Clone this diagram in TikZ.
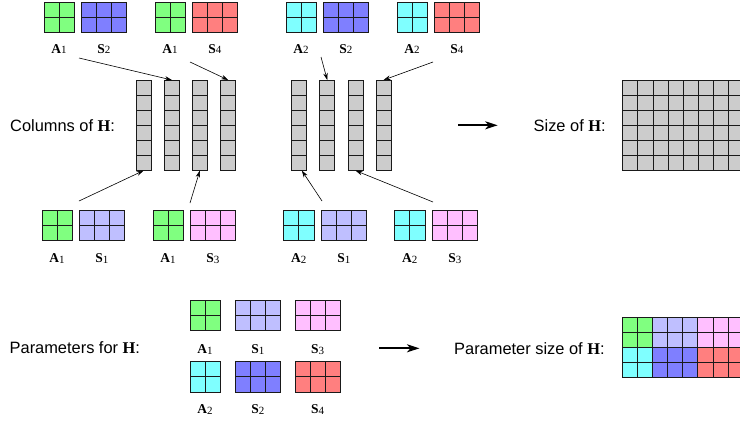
\documentclass[tikz,border=0pt]{standalone}
\usepackage{fontspec}
\setmainfont{Liberation Sans}
\newfontfamily\tmr{Liberation Serif}
\usetikzlibrary{arrows.meta,calc}
\definecolor{cgreen}{HTML}{80FF80}
\definecolor{cblue}{HTML}{7F7FFF}
\definecolor{cred}{HTML}{FF7F7F}
\definecolor{ccyan}{HTML}{7FFFFF}
\definecolor{clav}{HTML}{BFBFFF}
\definecolor{cpink}{HTML}{FFBFFF}
\definecolor{cgray}{HTML}{CCCCCC}
\definecolor{cline}{HTML}{1A1A1A}
\newcommand\bH{{\tmr\bfseries H}}
\newcommand\lbl[2]{{\tmr\bfseries #1}\raisebox{-0.9pt}{\fontsize{11}{11}\selectfont\tmr #2}}
\newcommand\cs{15.1}
\newcommand\cellblock[6]{%
  \node[blk,fill=#6,minimum width=#4*\cs pt,minimum height=#5*\cs pt] (#1) at (#2,#3) {};
  \ifnum#4>1
    \foreach \k in {2,...,#4}{\draw[blkline] ($(#1.north west)+({(\k-1)*\cs pt},0pt)$) -- ($(#1.south west)+({(\k-1)*\cs pt},0pt)$);}
  \fi
  \ifnum#5>1
    \foreach \k in {2,...,#5}{\draw[blkline] ($(#1.north west)+(0pt,{-(\k-1)*\cs pt})$) -- ($(#1.north east)+(0pt,{-(\k-1)*\cs pt})$);}
  \fi
}
\begin{document}
\begin{tikzpicture}[x=1pt,y=-1pt,
  blk/.style={draw=cline,line width=0.8pt,inner sep=0pt,outer sep=0pt,anchor=north west},
  blkline/.style={draw=cline,line width=0.8pt},
  lab/.style={inner sep=0pt,font=\fontsize{13.5}{14}\selectfont},
  txt/.style={inner sep=0pt,anchor=west,font=\fontsize{16.4}{18}\selectfont},
  thinarrow/.style={draw,line width=0.6pt,-{Stealth[length=7pt,width=4.5pt]}},
  bigarrow/.style={draw,line width=1.9pt,-{Stealth[length=12.5pt,width=8pt,inset=3.5pt]}}]
\useasboundingbox (0,0) rectangle (740,421);
% top row
\cellblock{t1a}{44}{2}{2}{2}{cgreen}
\cellblock{t1s}{81.3}{2}{3}{2}{cblue}
\cellblock{t2a}{155}{2}{2}{2}{cgreen}
\cellblock{t2s}{192.3}{2}{3}{2}{cred}
\cellblock{t3a}{286}{2}{2}{2}{ccyan}
\cellblock{t3s}{323.3}{2}{3}{2}{cblue}
\cellblock{t4a}{397}{2}{2}{2}{ccyan}
\cellblock{t4s}{434.3}{2}{3}{2}{cred}
\node[lab] (lt1a) at (t1a |- 0,49) {\lbl{A}{1}};
\node[lab] (lt1s) at (t1s |- 0,49) {\lbl{S}{2}};
\node[lab] (lt2a) at (t2a |- 0,49) {\lbl{A}{1}};
\node[lab] (lt2s) at (t2s |- 0,49) {\lbl{S}{4}};
\node[lab] (lt3a) at (t3a |- 0,49) {\lbl{A}{2}};
\node[lab] (lt3s) at (t3s |- 0,49) {\lbl{S}{2}};
\node[lab] (lt4a) at (t4a |- 0,49) {\lbl{A}{2}};
\node[lab] (lt4s) at (t4s |- 0,49) {\lbl{S}{4}};
% bottom row
\cellblock{b1a}{42}{210.3}{2}{2}{cgreen}
\cellblock{b1s}{79.3}{210.3}{3}{2}{clav}
\cellblock{b2a}{153}{210.3}{2}{2}{cgreen}
\cellblock{b2s}{190.3}{210.3}{3}{2}{cpink}
\cellblock{b3a}{283.7}{210.3}{2}{2}{ccyan}
\cellblock{b3s}{321.3}{210.3}{3}{2}{clav}
\cellblock{b4a}{394.7}{210.3}{2}{2}{ccyan}
\cellblock{b4s}{432.3}{210.3}{3}{2}{cpink}
\node[lab] (lb1a) at (b1a |- 0,258.3) {\lbl{A}{1}};
\node[lab] (lb1s) at (b1s |- 0,258.3) {\lbl{S}{1}};
\node[lab] (lb2a) at (b2a |- 0,258.3) {\lbl{A}{1}};
\node[lab] (lb2s) at (b2s |- 0,258.3) {\lbl{S}{3}};
\node[lab] (lb3a) at (b3a |- 0,258.3) {\lbl{A}{2}};
\node[lab] (lb3s) at (b3s |- 0,258.3) {\lbl{S}{1}};
\node[lab] (lb4a) at (b4a |- 0,258.3) {\lbl{A}{2}};
\node[lab] (lb4s) at (b4s |- 0,258.3) {\lbl{S}{3}};
% columns
\cellblock{col1}{136}{80}{1}{6}{cgray}
\cellblock{col2}{164.3}{80}{1}{6}{cgray}
\cellblock{col3}{192.3}{80}{1}{6}{cgray}
\cellblock{col4}{220.7}{80}{1}{6}{cgray}
\cellblock{col5}{291.3}{80}{1}{6}{cgray}
\cellblock{col6}{319.7}{80}{1}{6}{cgray}
\cellblock{col7}{348}{80}{1}{6}{cgray}
\cellblock{col8}{376}{80}{1}{6}{cgray}
\node[txt] (colsH) at (10,125.5) {Columns of \bH:};
% arrows to columns
\coordinate (s1) at (79,58);
\coordinate (s2) at (190,62);
\coordinate (s3) at (321,57);
\coordinate (s4) at (433,62);
\coordinate (s5) at (79,201);
\coordinate (s6) at (190,203);
\coordinate (s7) at (322,201);
\coordinate (s8) at (433,202);
\draw[thinarrow] (s1) -- (col2.north);
\draw[thinarrow] (s2) -- (col4.north);
\draw[thinarrow] (s3) -- (col6.north);
\draw[thinarrow] (s4) -- (col8.north);
\draw[thinarrow] (s5) -- (col1.south);
\draw[thinarrow] (s6) -- (col3.south);
\draw[thinarrow] (s7) -- ([xshift=3pt]col5.south);
\draw[thinarrow] (s8) -- (col7.south);
% size of H
\coordinate (a1s) at (458,125.3);
\coordinate (a1e) at (497.7,125.3);
\draw[bigarrow] (a1s) -- (a1e);
\node[txt] (sizeH) at (533.5,125.5) {Size of \bH:};
\cellblock{sz}{622.7}{80}{8}{6}{cgray}
% parameters
\node[txt] (parH) at (9.5,347.3) {Parameters for \bH:};
\cellblock{p1a}{190}{300}{2}{2}{cgreen}
\cellblock{p1s}{235.3}{300}{3}{2}{clav}
\cellblock{p1t}{295}{300}{3}{2}{cpink}
\cellblock{p2a}{190}{361.7}{2}{2}{ccyan}
\cellblock{p2s}{235.3}{361.7}{3}{2}{cblue}
\cellblock{p2t}{295}{361.7}{3}{2}{cred}
\node[lab] (lp1a) at (p1a |- 0,349.3) {\lbl{A}{1}};
\node[lab] (lp1s) at (p1s |- 0,349.3) {\lbl{S}{1}};
\node[lab] (lp1t) at (p1t |- 0,349.3) {\lbl{S}{3}};
\node[lab] (lp2a) at (p2a |- 0,409.7) {\lbl{A}{2}};
\node[lab] (lp2s) at (p2s |- 0,409.7) {\lbl{S}{2}};
\node[lab] (lp2t) at (p2t |- 0,409.7) {\lbl{S}{4}};
\coordinate (a2s) at (379,348.3);
\coordinate (a2e) at (419.5,348.3);
\draw[bigarrow] (a2s) -- (a2e);
\node[txt] (psH) at (454,348.5) {Parameter size of \bH:};
\cellblock{g1}{622.3}{317.3}{2}{2}{cgreen}
\cellblock{g2}{652.5}{317.3}{3}{2}{clav}
\cellblock{g3}{697.8}{317.3}{3}{2}{cpink}
\cellblock{g4}{622.3}{347.5}{2}{2}{ccyan}
\cellblock{g5}{652.5}{347.5}{3}{2}{cblue}
\cellblock{g6}{697.8}{347.5}{3}{2}{cred}
\end{tikzpicture}
\end{document}
